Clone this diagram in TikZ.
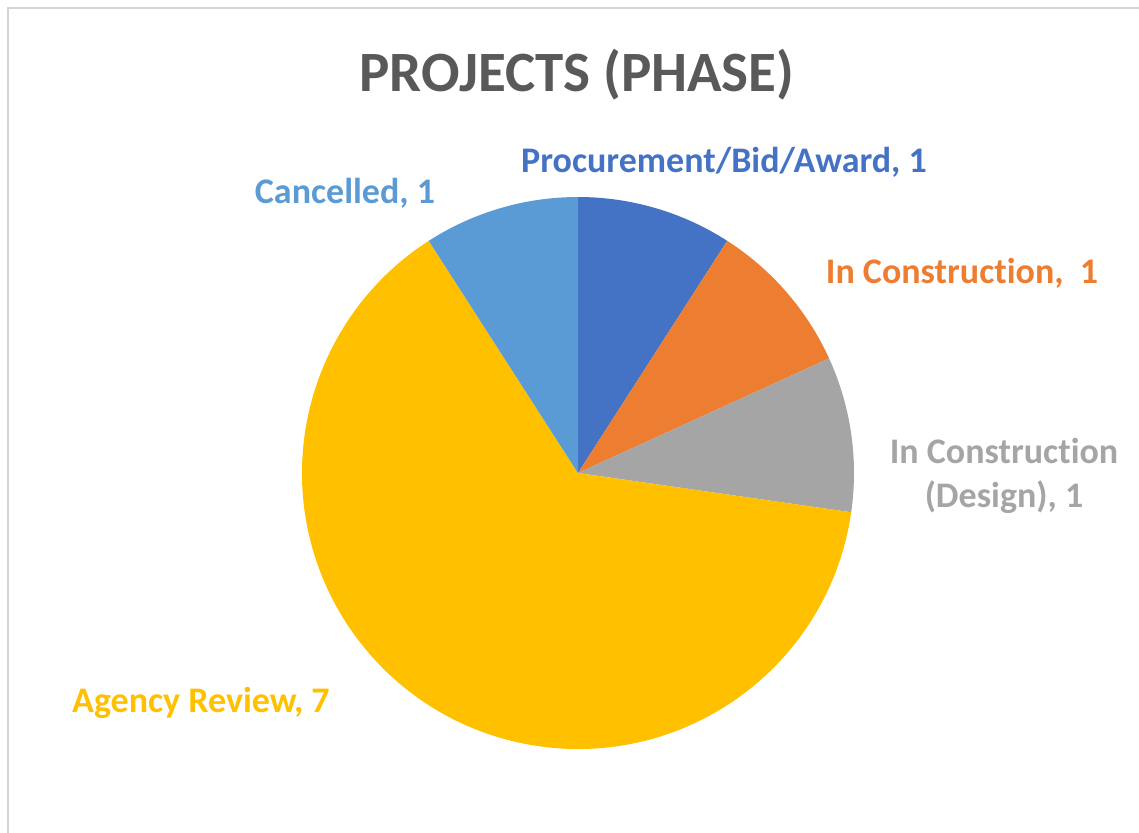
\documentclass[tikz,border=0pt]{standalone}
\usepackage{fontspec}
\setmainfont{Carlito}[Ligatures=NoCommon]
\usetikzlibrary{positioning}

\definecolor{framegray}{HTML}{D4D4D4}
\definecolor{titlegray}{HTML}{595959}
\definecolor{procblue}{HTML}{4472C4}
\definecolor{buildorange}{HTML}{ED7D31}
\definecolor{designgray}{HTML}{A5A5A5}
\definecolor{agencyyellow}{HTML}{FFC000}
\definecolor{cancelblue}{HTML}{5B9BD5}

\begin{document}
\begin{tikzpicture}[x=1pt,y=-1pt,
    slicelabel/.style={font=\bfseries\fontsize{36}{44}\selectfont,align=center,inner sep=0pt,anchor=base}]
    \useasboundingbox (0,0) rectangle (1139,832);
    \draw[framegray,line width=2pt] (1150,8) -- (8,8) -- (8,850);

    % slices, clockwise from the top
    \begin{scope}[shift={(578,473)},y=1pt]
      \foreach \from/\to/\col in {90/57.2727/procblue, 57.2727/24.5455/buildorange,
          24.5455/-8.1818/designgray, -8.1818/-237.2727/agencyyellow, -237.2727/-270/cancelblue}
        \fill[\col] (0,0) -- (\from:276) arc[start angle=\from, end angle=\to, radius=276] -- cycle;
    \end{scope}

    \node[anchor=base,inner sep=0pt,text=titlegray,font=\bfseries\fontsize{57}{60}\selectfont]
      (title) at (577,92) {PROJECTS (PHASE)};
    \node[slicelabel,text=procblue]     (proc)   at (724,172) {Procurement/Bid/Award, 1};
    \node[slicelabel,text=buildorange]  (build)  at (962,283) {In Construction,\ \ 1};
    \node[slicelabel,text=designgray]   (design) at (1004,507) {In Construction\\(Design), 1};
    \node[slicelabel,text=cancelblue]   (cancel) at (345,203) {Cancelled, 1};
    \node[slicelabel,text=agencyyellow] (agency) at (201,712) {Agency Review, 7};
\end{tikzpicture}
\end{document}
